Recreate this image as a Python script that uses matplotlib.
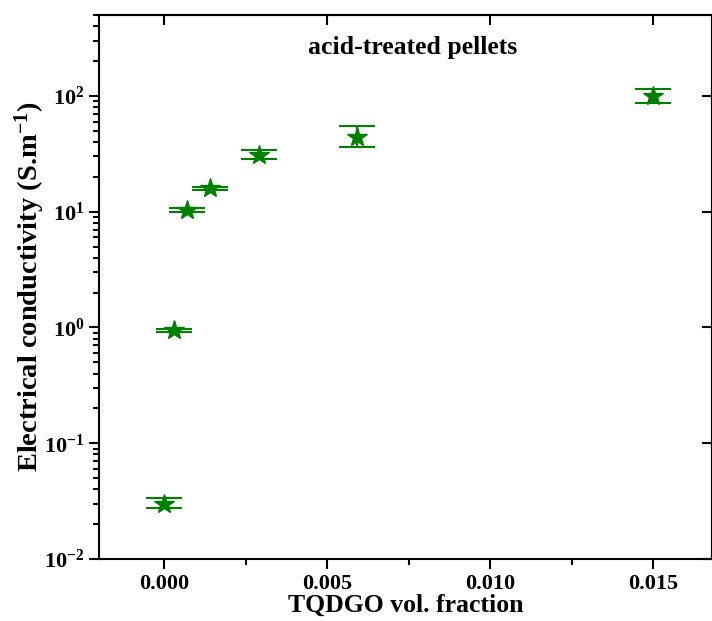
import numpy as np
import matplotlib
matplotlib.use('Agg')
import matplotlib.pyplot as plt
from matplotlib.ticker import LogLocator, MultipleLocator, NullFormatter, LogFormatterMathtext

plt.rcParams['font.family'] = 'Liberation Serif'
plt.rcParams['font.weight'] = 'bold'
plt.rcParams['mathtext.fontset'] = 'custom'
plt.rcParams['mathtext.rm'] = 'Liberation Serif:bold'
plt.rcParams['mathtext.it'] = 'Liberation Serif:bold'
plt.rcParams['mathtext.bf'] = 'Liberation Serif:bold'

# data
vol_fraction = [0.0, 0.0003, 0.0007, 0.0014, 0.0029, 0.0059, 0.015]
conductivity = [0.030, 0.95, 10.4, 16.0, 31.0, 44.5, 100.0]
err_low = [0.0026, 0.03, 0.4, 0.5, 2.6, 8.0, 13.0]
err_high = [0.0035, 0.03, 0.4, 0.5, 3.2, 10.0, 15.0]

fig = plt.figure(figsize=(7.12, 6.21), dpi=100)
ax = fig.add_axes([0.139, 0.0998, 0.861, 0.876])

ax.errorbar(vol_fraction, conductivity, yerr=[err_low, err_high], fmt='*',
            color='green', ms=15, elinewidth=1.5, capsize=13.3, capthick=1.5,
            zorder=3)

ax.set_yscale('log')
ax.set_ylim(0.01, 500)
ax.set_xlim(-0.002, 0.0168)

ax.xaxis.set_major_locator(MultipleLocator(0.005))
ax.xaxis.set_minor_locator(MultipleLocator(0.0025))
ax.xaxis.set_major_formatter(plt.FuncFormatter(lambda v, _: f'{v:.3f}'))
ax.yaxis.set_major_locator(LogLocator(base=10, numticks=10))
ax.yaxis.set_minor_locator(LogLocator(base=10, subs=np.arange(2, 10), numticks=20))
ax.yaxis.set_minor_formatter(NullFormatter())
ax.yaxis.set_major_formatter(LogFormatterMathtext())

ax.tick_params(which='major', direction='out', length=7, width=1.5, labelsize=16)
ax.tick_params(which='minor', direction='out', length=4, width=1.5)
for s in ax.spines.values():
    s.set_linewidth(1.5)

# mirrored ticks on top and right, pointing inward
top = ax.secondary_xaxis('top')
top.xaxis.set_major_locator(MultipleLocator(0.005))
top.tick_params(direction='in', length=7, width=1.5, labeltop=False)
top.spines['top'].set_linewidth(1.5)
right = ax.secondary_yaxis('right')
right.yaxis.set_major_locator(LogLocator(base=10, numticks=10))
right.yaxis.set_minor_locator(plt.NullLocator())
right.tick_params(direction='in', length=7, width=1.5, labelright=False)
right.spines['right'].set_linewidth(1.5)

ax.set_xlabel('TQDGO vol. fraction', fontsize=18.5, fontweight='bold', labelpad=0)
ax.set_ylabel('Electrical conductivity (S.m$^{-1}$)', fontsize=20.5, fontweight='bold', labelpad=-2)
ax.text(0.512, 0.94, 'acid-treated pellets', transform=ax.transAxes,
        ha='center', va='center', fontsize=18.5, fontweight='bold')

fig.savefig('out.png', dpi=100)
